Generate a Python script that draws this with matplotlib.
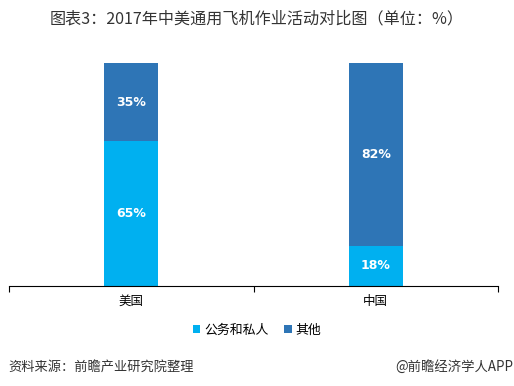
import matplotlib
matplotlib.use("Agg")
import matplotlib.pyplot as plt

plt.rcParams["font.family"] = ["Noto Sans CJK SC", "DejaVu Sans"]

countries = ["美国", "中国"]
business_private = [65, 18]
other = [35, 82]
series_names = ["公务和私人", "其他"]

c_light = "#00B0F0"
c_dark = "#2E75B6"

fig = plt.figure(figsize=(5.14, 3.86), dpi=100)
ax = fig.add_axes([9 / 514, 100 / 386, 489 / 514, 223 / 386])

x = [0, 1]
w = 0.22
ax.bar(x, business_private, w, color=c_light, label=series_names[0])
ax.bar(x, other, w, bottom=business_private, color=c_dark, label=series_names[1])

for i in x:
    ax.text(i, business_private[i] / 2, f"{business_private[i]}%", ha="center", va="center",
            color="white", fontsize=9, fontweight="bold", family="DejaVu Sans")
    ax.text(i, business_private[i] + other[i] / 2, f"{other[i]}%", ha="center", va="center",
            color="white", fontsize=9, fontweight="bold", family="DejaVu Sans")

ax.set_xlim(-0.5, 1.5)
ax.set_ylim(0, 100)
for s in ["top", "right", "left"]:
    ax.spines[s].set_visible(False)
ax.spines["bottom"].set_color("black")
ax.spines["bottom"].set_linewidth(0.8)
ax.set_yticks([])
ax.set_xticks([-0.5, 0.5, 1.5])
ax.set_xticklabels([])
ax.tick_params(axis="x", length=4, width=0.8, direction="out")
for i, name in zip(x, countries):
    ax.text(i, -7, name, ha="center", va="center", fontsize=9)

fig.text(0.5, 1 - 19 / 386, "图表3：2017年中美通用飞机作业活动对比图（单位：%）",
         ha="center", va="center", fontsize=11.6, color="#333333")

ax.legend(loc="center", bbox_to_anchor=(0.5, (386 - 330) / 386), bbox_transform=fig.transFigure,
          ncol=2, frameon=False, fontsize=9.3, handlelength=0.6, handleheight=0.6,
          handletextpad=0.3, columnspacing=1.2)

fig.text(8 / 514, 1 - 367 / 386, "资料来源：前瞻产业研究院整理", ha="left", va="center",
         fontsize=9.5, style="italic", color="#333333")
fig.text(513 / 514, 1 - 367 / 386, "@前瞻经济学人APP", ha="right", va="center",
         fontsize=9.6, color="#333333")

fig.savefig("out.png", dpi=100)
